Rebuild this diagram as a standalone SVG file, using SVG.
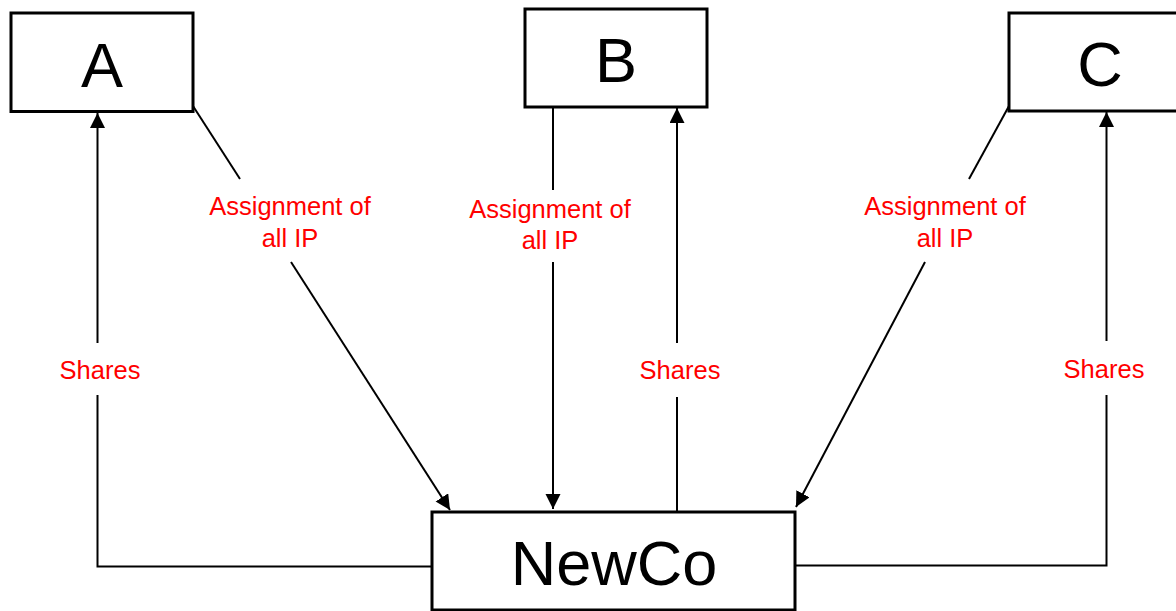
<svg xmlns="http://www.w3.org/2000/svg" width="1176" height="611" viewBox="0 0 1176 611">
<style>
.box{fill:#fff;stroke:#000;stroke-width:3}
.big{font-family:"Liberation Sans",Arial,sans-serif;font-size:63px;fill:#000;text-anchor:middle}
.lbl{font-family:"Liberation Sans",Arial,sans-serif;font-size:25.5px;fill:#f00;text-anchor:middle}
.ln{fill:none;stroke:#000;stroke-width:2}
</style>
<defs>
<marker id="arr" markerUnits="userSpaceOnUse" markerWidth="16" markerHeight="16" refX="15" refY="7.5" orient="auto">
<path d="M0,0 L15,7.5 L0,15 z" fill="#000"/>
</marker>
</defs>
<rect width="1176" height="611" fill="#fff"/>
<g id="connectors">
<path class="ln" d="M432,566.5 H97.5 V395"/>
<path class="ln" d="M97.5,343 V113" marker-end="url(#arr)"/>
<path class="ln" d="M193,106 L240,179"/>
<path class="ln" d="M291,262 L450,510" marker-end="url(#arr)"/>
<path class="ln" d="M553,107 V190"/>
<path class="ln" d="M553,262 V509" marker-end="url(#arr)"/>
<path class="ln" d="M677,512 V397"/>
<path class="ln" d="M677,343 V108" marker-end="url(#arr)"/>
<path class="ln" d="M1009,106 L969,179"/>
<path class="ln" d="M925,262 L796,507" marker-end="url(#arr)"/>
<path class="ln" d="M795,565.5 H1106.5 V395"/>
<path class="ln" d="M1106.5,341 V112" marker-end="url(#arr)"/>
<text class="lbl" x="290" y="215">Assignment of</text>
<text class="lbl" x="290" y="247">all IP</text>
<text class="lbl" x="550" y="218">Assignment of</text>
<text class="lbl" x="550" y="249">all IP</text>
<text class="lbl" x="945" y="215">Assignment of</text>
<text class="lbl" x="945" y="247">all IP</text>
<text class="lbl" x="100" y="379">Shares</text>
<text class="lbl" x="680" y="379">Shares</text>
<text class="lbl" x="1104" y="378">Shares</text>
</g>
<g id="A">
<rect class="box" x="11" y="13" width="182" height="98.5"/>
<text class="big" x="102" y="87">A</text>
</g>
<g id="B">
<rect class="box" x="525" y="9" width="182" height="98"/>
<text class="big" x="616" y="82">B</text>
</g>
<g id="C">
<rect class="box" x="1009" y="13" width="180" height="98"/>
<text class="big" x="1100" y="86">C</text>
</g>
<g id="NewCo">
<rect class="box" x="432" y="512" width="363" height="98"/>
<text class="big" x="614" y="585">NewCo</text>
</g>
</svg>
